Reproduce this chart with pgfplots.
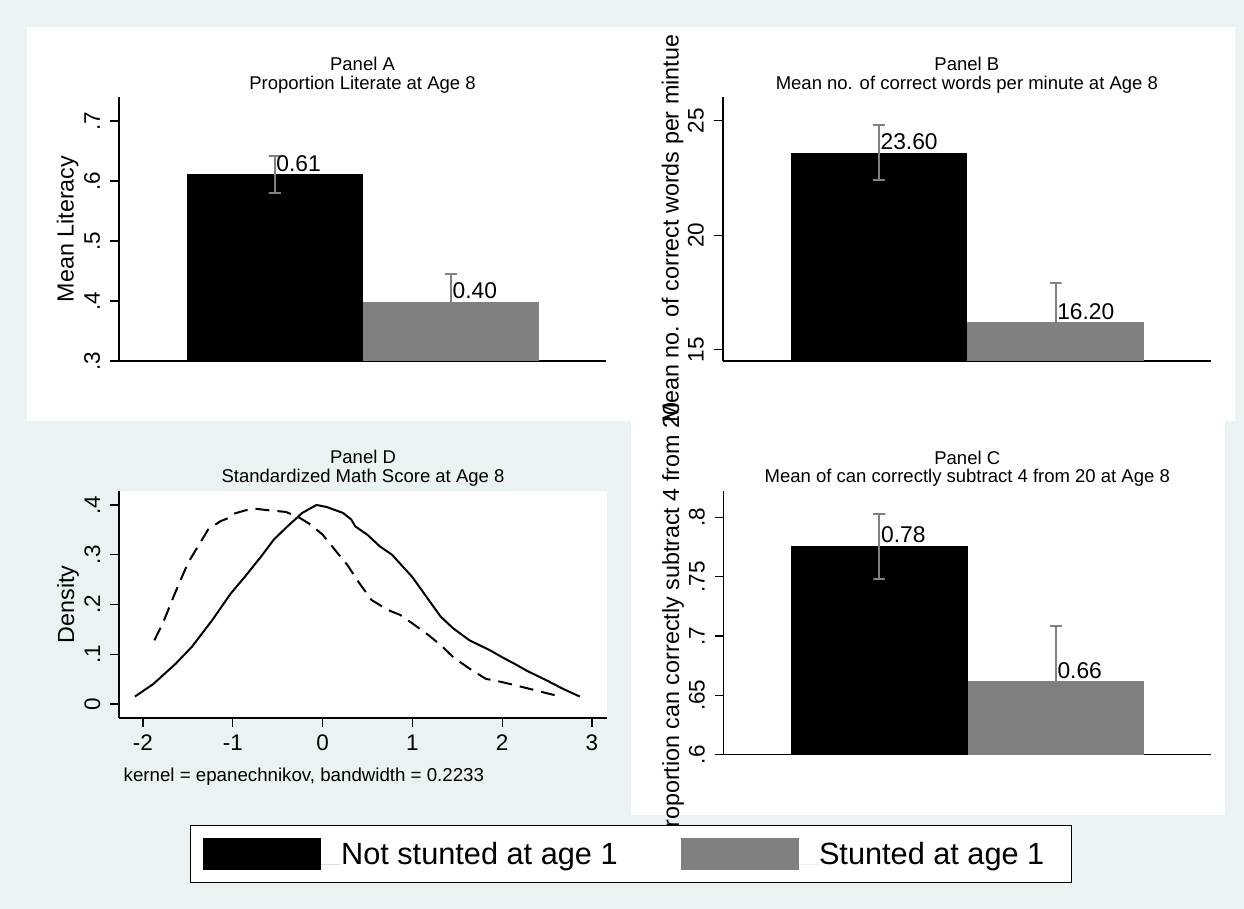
\documentclass[border=0pt]{standalone}
\usepackage{pgfplots}
\pgfplotsset{compat=1.18}
\usepackage{fontspec}
\setmainfont{Liberation Sans}
\definecolor{bgc}{RGB}{234,242,243}
\definecolor{barg}{RGB}{128,128,128}
\newcommand{\fs}[1]{\fontsize{#1pt}{#1pt}\selectfont}
\pgfplotsset{
  stata/.style={
    scale only axis, anchor=south west,
    axis x line*=bottom, axis y line*=left,
    axis line style={line width=1.6pt, black, -},
    tick align=outside, major tick length=9pt,
    tick style={line width=1.4pt, black},
    tick label style={font=\fs{22.5}, inner sep=0pt},
    yticklabel style={xshift=-10pt, rotate=90, anchor=base},
    ylabel style={font=\fs{23.3}, inner sep=0pt, anchor=base},
    title style={font=\fs{18.5}, align=center, anchor=south, inner sep=0pt, yshift=-7pt},
    /pgf/number format/assume math mode=true,
  },
  barpanel/.style={stata, width=487pt, height=264pt, xmin=-0.884, xmax=1.88, xtick=\empty},
  nnc/.style={nodes near coords={\pgfmathprintnumber[fixed,fixed zerofill,precision=2]{\pgfplotspointmeta}},
    every node near coord/.append style={font=\fs{22.8}, anchor=base west, xshift=1.5pt, yshift=3pt, inner sep=0pt, text=black}},
  blackbar/.style={ybar, bar width=1, bar shift=0pt, fill=black, draw=none, nnc,
    legend image code/.code={\fill[black] (0pt,-5pt) rectangle (118pt,27pt); \path (0pt,0pt) -- (138pt,0pt);}},
  greybar/.style={ybar, bar width=1, bar shift=0pt, fill=barg, draw=none, nnc,
    legend image code/.code={\fill[barg] (0pt,-5pt) rectangle (118pt,27pt); \path (0pt,0pt) -- (138pt,0pt);}},
  ebar/.style={forget plot, barg, line width=2pt, mark=none, line join=miter},
}
\begin{document}
\begin{tikzpicture}[x=1pt,y=1pt]
\fill[bgc] (0,0) rectangle (1244,909);
\useasboundingbox (0,0) rectangle (1244,909);
\fill[white] (27,488) rectangle (631,882);
\fill[white] (631,488) rectangle (1235,882);
\fill[white] (631,94) rectangle (1225,488.5);

% Panel B
\begin{axis}[barpanel, at={(722.7pt,548pt)}, width=488.3pt, height=264.3pt,
  ymin=14.51, ymax=26.05, ytick={15,20,25}, yticklabels={15,20,25},
  ylabel={Mean no. of correct words per mintue},
  ylabel style={at={(axis description cs:-0.0903,0.5)}},
  title={Panel B\\Mean no. of correct words per minute at Age 8},
  title style={at={(axis description cs:0.5,1.017)}}]
\addplot[blackbar] coordinates {(0,23.6)};
\addplot[greybar] coordinates {(1,16.2)};
% 95% confidence intervals: cap, bar, cap
\addplot[ebar] coordinates {(-0.034,24.8) (0.034,24.8) (0,24.8) (0,22.4) (-0.034,22.4) (0.034,22.4)};
\addplot[ebar] coordinates {(0.966,17.91) (1.034,17.91) (1,17.91) (1,14.49) (0.966,14.49) (1.034,14.49)};
\end{axis}

% Panel C
\begin{axis}[barpanel, at={(723.5pt,154.3pt)}, width=487.5pt, height=263.7pt,
  ymin=0.6, ymax=0.8222, ytick={0.6,0.65,0.7,0.75,0.8}, yticklabels={.6,.65,.7,.75,.8},
  ylabel={Proportion can correctly subtract 4 from 20},
  ylabel style={at={(axis description cs:-0.0913,0.5)}},
  title={Panel C\\Mean of can correctly subtract 4 from 20 at Age 8},
  title style={at={(axis description cs:0.5,1.0205)}}]
\addplot[blackbar] coordinates {(0,0.776)};
\addplot[greybar] coordinates {(1,0.662)};
\addplot[ebar] coordinates {(-0.034,0.8025) (0.034,0.8025) (0,0.8025) (0,0.7483) (-0.034,0.7483) (0.034,0.7483)};
\addplot[ebar] coordinates {(0.966,0.7082) (1.034,0.7082) (1,0.7082) (1,0.6158) (0.966,0.6158) (1.034,0.6158)};
\end{axis}

% Panel D
\begin{axis}[stata, at={(119pt,191pt)}, width=488pt, height=227.3pt,
  xmin=-2.267, xmax=3.167, ymin=-0.0281, ymax=0.4287,
  xtick={-2,-1,0,1,2,3}, xticklabels={-2,-1,0,1,2,3},
  ytick={0,0.1,0.2,0.3,0.4}, yticklabels={0,.1,.2,.3,.4},
  xticklabel style={anchor=north, yshift=-8pt},
  axis background/.style={fill=white},
  ylabel={Density},
  ylabel style={at={(axis description cs:-0.0922,0.5)}},
  title={Panel D\\Standardized Math Score at Age 8},
  title style={at={(axis description cs:0.5,1.024)}}]
\addplot[black, line width=2pt, line join=round] coordinates {
(-2.09,0.015) (-1.886,0.040) (-1.636,0.081) (-1.455,0.115) (-1.227,0.169) (-1.023,0.222)
(-0.864,0.256) (-0.682,0.297) (-0.545,0.330) (-0.409,0.354) (-0.227,0.384) (-0.068,0.400)
(0.045,0.396) (0.227,0.384) (0.318,0.371) (0.364,0.357) (0.5,0.340) (0.636,0.317)
(0.773,0.300) (1.0,0.255) (1.182,0.209) (1.318,0.175) (1.455,0.152) (1.636,0.128)
(1.864,0.108) (2.0,0.094) (2.136,0.081) (2.273,0.067) (2.5,0.047) (2.682,0.030) (2.864,0.015)};
\addplot[black, line width=2pt, dash pattern=on 14pt off 8pt] coordinates {
(-1.873,0.128) (-1.773,0.165) (-1.636,0.226) (-1.5,0.283) (-1.364,0.324) (-1.273,0.351)
(-1.136,0.3675) (-1.045,0.374) (-0.977,0.383) (-0.864,0.389) (-0.75,0.3925) (-0.636,0.390)
(-0.523,0.388) (-0.409,0.386) (-0.273,0.376) (-0.136,0.361) (0,0.3405) (0.136,0.310)
(0.273,0.280) (0.409,0.243) (0.545,0.209) (0.727,0.189) (0.864,0.179) (1.0,0.162)
(1.182,0.138) (1.318,0.118) (1.455,0.094) (1.636,0.071) (1.818,0.0506) (2.0,0.044)
(2.273,0.032) (2.455,0.0236) (2.636,0.0155)};
\end{axis}
\node[anchor=base west, inner sep=0pt, font=\fs{18.7}] at (123.5,127.3) {kernel = epanechnikov, bandwidth = 0.2233};

% Panel A (with legend)
\begin{axis}[barpanel, at={(119pt,548pt)},
  ymin=0.3, ymax=0.74, ytick={0.3,0.4,0.5,0.6,0.7}, yticklabels={.3,.4,.5,.6,.7},
  ylabel={Mean Literacy},
  ylabel style={at={(axis description cs:-0.093,0.5)}},
  title={Panel A\\Proportion Literate at Age 8},
  title style={at={(axis description cs:0.5,1.0174)}},
  legend columns=2,
  legend style={at={(axis description cs:1.0513,-1.8674)}, anchor=center,
    draw=black, line width=1.5pt, fill=white, font=\fs{30.7},
    inner xsep=12.5pt, inner ysep=12.5pt, column sep=0pt,
    cells={anchor=base west}, nodes={inner sep=0pt, text depth=0pt}}]
\addplot[blackbar] coordinates {(0,0.611)};
\addlegendentry{Not stunted at age 1\hspace*{63.4pt}}
\addplot[greybar] coordinates {(1,0.399)};
\addlegendentry{Stunted at age 1\hspace*{14.5pt}}
\addplot[ebar] coordinates {(-0.034,0.642) (0.034,0.642) (0,0.642) (0,0.580) (-0.034,0.580) (0.034,0.580)};
\addplot[ebar] coordinates {(0.966,0.4445) (1.034,0.4445) (1,0.4445) (1,0.3535) (0.966,0.3535) (1.034,0.3535)};
\end{axis}
\end{tikzpicture}
\end{document}
